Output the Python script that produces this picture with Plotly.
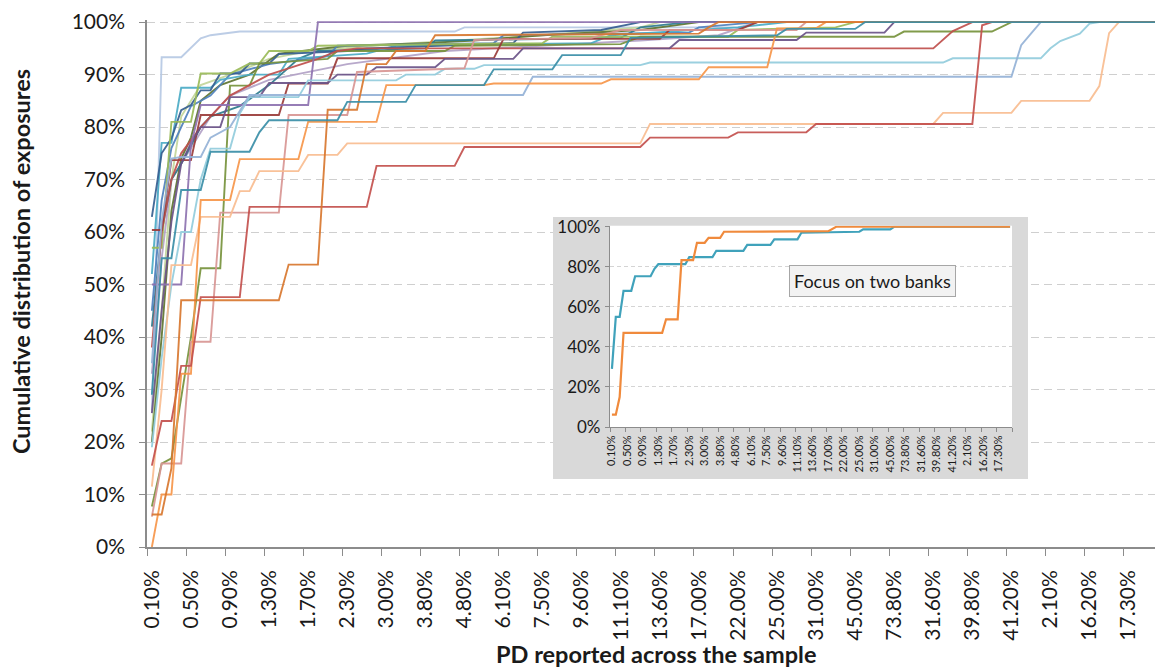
import plotly.graph_objects as go

# ---------------- data ----------------
pd_tick_labels = ["0.10%", "0.50%", "0.90%", "1.30%", "1.70%", "2.30%", "3.00%", "3.80%",
                  "4.80%", "6.10%", "7.50%", "9.60%", "11.10%", "13.60%", "17.00%", "22.00%",
                  "25.00%", "31.00%", "45.00%", "73.80%", "31.60%", "39.80%", "41.20%", "2.10%",
                  "16.20%", "17.30%"]
n_categories = 104          # PD buckets on the category axis (every 4th labelled)
label_step = 4

# each bank: (category index, cumulative share of exposures) at the points where the curve changes
bank_a = [(0, 0.26), (1, 0.933), (3, 0.933), (5, 0.969), (6, 0.975), (9, 0.982), (31, 0.982), (32, 0.99), (60, 0.99), (62, 1.0), (103, 1.0)]
bank_b = [(0, 0.50), (3, 0.50), (4, 0.766), (5, 0.842), (16, 0.842), (17, 1.0), (103, 1.0)]
bank_c = [(0, 0.255), (1, 0.45), (2, 0.62), (3, 0.73), (4, 0.77), (5, 0.80), (7, 0.80), (8, 0.857), (11, 0.857), (12, 0.884), (18, 0.884), (19, 0.90), (22, 0.90), (23, 0.914), (29, 0.914), (30, 0.93), (37, 0.93), (38, 0.95), (53, 0.95), (54, 0.966), (66, 0.966), (67, 0.98), (75, 0.98), (76, 1.0), (103, 1.0)]
bank_d = [(0, 0.155), (1, 0.24), (2, 0.24), (3, 0.345), (4, 0.345), (5, 0.476), (9, 0.476), (10, 0.648), (22, 0.648), (23, 0.726), (31, 0.726), (32, 0.762), (50, 0.762), (51, 0.78), (59, 0.78), (60, 0.79), (67, 0.79), (68, 0.806), (84, 0.806), (85, 0.994), (86, 1.0), (103, 1.0)]
bank_e = [(0, 0.115), (1, 0.30), (2, 0.537), (4, 0.537), (5, 0.629), (8, 0.629), (9, 0.678), (10, 0.678), (11, 0.716), (15, 0.716), (16, 0.747), (19, 0.747), (20, 0.769), (50, 0.769), (51, 0.806), (80, 0.806), (81, 0.827), (88, 0.827), (89, 0.85), (96, 0.85), (97, 0.878), (98, 0.979), (99, 1.0), (103, 1.0)]
bank_f = [(0, 0.0), (1, 0.10), (2, 0.10), (3, 0.33), (4, 0.33), (5, 0.661), (8, 0.661), (9, 0.739), (15, 0.739), (16, 0.81), (23, 0.81), (24, 0.88), (34, 0.88), (35, 0.883), (46, 0.883), (47, 0.891), (56, 0.891), (57, 0.914), (63, 0.914), (64, 0.988), (68, 0.988), (69, 1.0), (103, 1.0)]
bank_g = [(0, 0.062), (1, 0.062), (2, 0.15), (3, 0.47), (13, 0.47), (14, 0.538), (17, 0.538), (18, 0.833), (21, 0.833), (22, 0.92), (24, 0.92), (25, 0.945), (28, 0.945), (29, 0.975), (56, 0.978), (57, 0.99), (58, 1.0), (103, 1.0)]
bank_h = [(0, 0.29), (1, 0.55), (2, 0.55), (3, 0.68), (5, 0.68), (6, 0.753), (10, 0.753), (11, 0.79), (12, 0.813), (19, 0.813), (20, 0.848), (26, 0.848), (27, 0.88), (34, 0.88), (35, 0.91), (41, 0.91), (42, 0.937), (48, 0.937), (49, 0.97), (64, 0.975), (65, 0.987), (72, 0.987), (73, 1.0), (103, 1.0)]
bank_i = [(0, 0.19), (1, 0.36), (2, 0.50), (3, 0.60), (4, 0.60), (5, 0.70), (6, 0.759), (8, 0.759), (9, 0.826), (10, 0.857), (15, 0.857), (16, 0.889), (25, 0.889), (26, 0.90), (29, 0.90), (30, 0.911), (33, 0.911), (34, 0.918), (50, 0.918), (51, 0.923), (81, 0.923), (82, 0.931), (91, 0.931), (92, 0.95), (93, 0.964), (95, 0.978), (96, 0.997), (97, 1.0), (103, 1.0)]
bank_j = [(0, 0.35), (1, 0.62), (2, 0.74), (3, 0.743), (5, 0.743), (6, 0.78), (8, 0.80), (9, 0.83), (10, 0.861), (38, 0.861), (39, 0.896), (88, 0.896), (89, 0.956), (90, 0.978), (91, 1.0), (103, 1.0)]
bank_k = [(0, 0.058), (1, 0.159), (3, 0.159), (4, 0.391), (6, 0.391), (7, 0.637), (13, 0.637), (14, 0.823), (20, 0.823), (21, 0.905), (32, 0.912), (33, 0.966), (45, 0.97), (48, 0.985), (66, 0.985), (67, 1.0), (103, 1.0)]
bank_l = [(0, 0.604), (1, 0.604), (2, 0.737), (4, 0.737), (5, 0.823), (13, 0.823), (14, 0.883), (18, 0.883), (19, 0.931), (35, 0.931), (36, 0.968), (52, 0.968), (53, 0.985), (60, 0.985), (62, 1.0), (103, 1.0)]
bank_m = [(0, 0.38), (1, 0.60), (2, 0.70), (3, 0.75), (5, 0.80), (8, 0.86), (12, 0.90), (17, 0.93), (19, 0.945), (21, 0.95), (80, 0.95), (82, 0.983), (84, 1.0), (103, 1.0)]
bank_n = [(0, 0.57), (1, 0.57), (2, 0.81), (4, 0.81), (5, 0.902), (8, 0.902), (10, 0.921), (11, 0.921), (12, 0.945), (16, 0.945), (17, 0.955), (40, 0.96), (41, 0.972), (59, 0.972), (60, 0.985), (70, 0.99), (72, 1.0), (103, 1.0)]
bank_o = [(0, 0.077), (1, 0.159), (2, 0.169), (4, 0.40), (5, 0.531), (7, 0.531), (8, 0.879), (10, 0.879), (11, 0.921), (18, 0.93), (19, 0.945), (30, 0.945), (31, 0.955), (48, 0.958), (50, 0.972), (76, 0.972), (77, 0.982), (86, 0.982), (88, 1.0), (103, 1.0)]
bank_p = [(0, 0.22), (1, 0.45), (2, 0.70), (3, 0.82), (5, 0.88), (8, 0.90), (12, 0.93), (16, 0.945), (25, 0.958), (40, 0.975), (50, 0.99), (52, 1.0), (103, 1.0)]
bank_q = [(0, 0.629), (1, 0.75), (2, 0.778), (3, 0.832), (4, 0.842), (5, 0.87), (6, 0.87), (7, 0.902), (9, 0.902), (10, 0.921), (12, 0.921), (13, 0.939), (20, 0.945), (22, 0.95), (37, 0.96), (38, 0.98), (46, 0.985), (50, 1.0), (103, 1.0)]
bank_r = [(0, 0.45), (1, 0.66), (2, 0.76), (3, 0.80), (4, 0.84), (6, 0.86), (8, 0.90), (12, 0.92), (18, 0.935), (19, 0.955), (35, 0.96), (36, 0.975), (55, 0.98), (56, 0.99), (62, 1.0), (103, 1.0)]
bank_s = [(0, 0.52), (1, 0.77), (2, 0.77), (3, 0.875), (6, 0.875), (7, 0.89), (10, 0.90), (13, 0.90), (14, 0.93), (22, 0.94), (25, 0.955), (45, 0.96), (47, 0.975), (60, 0.99), (65, 1.0), (103, 1.0)]
bank_t = [(0, 0.42), (1, 0.60), (2, 0.70), (3, 0.73), (5, 0.80), (6, 0.82), (9, 0.84), (12, 0.88), (15, 0.93), (17, 0.945), (28, 0.95), (29, 0.965), (48, 0.97), (50, 0.99), (55, 1.0), (103, 1.0)]
bank_u = [(0, 0.20), (1, 0.40), (2, 0.64), (3, 0.74), (4, 0.78), (5, 0.85), (7, 0.88), (10, 0.90), (13, 0.94), (20, 0.955), (28, 0.96), (33, 0.965), (40, 0.975), (50, 0.985), (56, 1.0), (103, 1.0)]
bank_v = [(0, 0.33), (1, 0.55), (2, 0.70), (4, 0.76), (6, 0.82), (8, 0.86), (12, 0.89), (20, 0.92), (30, 0.945), (50, 0.965), (58, 0.975), (62, 1.0), (103, 1.0)]

# the two banks shown in the inset
focus_banks = ["bank_h", "bank_g"]

# ---------------- styling ----------------
main_banks = [
    ("bank_a", bank_a, "#b7c9e4"), ("bank_p", bank_p, "#c3d69b"), ("bank_v", bank_v, "#b3a2c7"),
    ("bank_u", bank_u, "#5f7530"), ("bank_t", bank_t, "#2e7b8e"), ("bank_r", bank_r, "#4f81bd"),
    ("bank_s", bank_s, "#4bacc6"), ("bank_q", bank_q, "#365f91"), ("bank_n", bank_n, "#9bbb59"),
    ("bank_o", bank_o, "#77933c"), ("bank_m", bank_m, "#c0504d"), ("bank_l", bank_l, "#9b3c3a"),
    ("bank_c", bank_c, "#6b5388"), ("bank_b", bank_b, "#8e72b0"), ("bank_i", bank_i, "#93cddd"),
    ("bank_j", bank_j, "#95b3d7"), ("bank_k", bank_k, "#d99694"), ("bank_e", bank_e, "#f9bd91"),
    ("bank_f", bank_f, "#f7964a"), ("bank_d", bank_d, "#c4514e"), ("bank_g", bank_g, "#d9782f"),
    ("bank_h", bank_h, "#3a8fa8"),
]
inset_colors = {"bank_h": "#40a2bb", "bank_g": "#f08a3c"}
FONT = "Lato"
TXT = "#1a1a1a"
AXIS = "#8c8c8c"

# geometry helpers (pixels -> paper fractions)
L, R, T0, B0 = 147, 1155, 22, 547
EPS = 0.004
plot_h = (B0 - T0) * (1 + EPS)
top_px = B0 - plot_h


def fx(px):
    return (px - L) / (R - L)


def fy(py):
    return (B0 - py) / plot_h


fig = go.Figure()

for name, pts, col in main_banks:
    fig.add_trace(go.Scatter(x=[p[0] for p in pts], y=[p[1] for p in pts], mode="lines",
                             line=dict(color=col, width=1.9), opacity=0.92,
                             name=name, showlegend=False, hoverinfo="skip"))

# frame subplot (grey card behind the inset)
fig.add_trace(go.Scatter(x=[], y=[], xaxis="x2", yaxis="y2", showlegend=False, hoverinfo="skip"))

all_banks = {n: p for n, p, _ in main_banks}
for name in focus_banks:
    pts = all_banks[name]
    fig.add_trace(go.Scatter(x=[p[0] for p in pts], y=[p[1] for p in pts], mode="lines",
                             line=dict(color=inset_colors[name], width=2.2),
                             xaxis="x3", yaxis="y3", showlegend=False, hoverinfo="skip"))

tick_pos = [k * label_step for k in range(len(pd_tick_labels))]
boundaries = [k * label_step - 0.5 for k in range(len(pd_tick_labels) + 1)]

fig.update_layout(
    width=1155, height=667,
    margin=dict(l=L, r=1155 - R, t=top_px, b=667 - B0),
    paper_bgcolor="white", plot_bgcolor="white",
    font=dict(family=FONT, color=TXT),
    showlegend=False,
    xaxis=dict(range=[-0.5, 102.7], tickmode="array", tickvals=tick_pos, ticktext=pd_tick_labels,
               tickangle=-90, ticks="", showgrid=False, zeroline=False,
               showline=True, linecolor=AXIS, linewidth=1.5,
               tickfont=dict(size=21, family=FONT, color=TXT), ticklabelstandoff=13,
               minor=dict(tickmode="array", tickvals=boundaries, ticks="outside", ticklen=7,
                          tickcolor=AXIS, tickwidth=1.3, showgrid=False)),
    yaxis=dict(range=[0, 1 + EPS], tickmode="array", tickvals=[k / 10 for k in range(11)],
               tickformat=".0%", showgrid=True, gridcolor="#cfcfcf", gridwidth=1.2,
               griddash="8px,5px", zeroline=False, showline=True, linecolor=AXIS, linewidth=1.5,
               ticks="outside", ticklen=6, tickcolor=AXIS, tickwidth=1.3,
               tickfont=dict(size=21, family=FONT, color=TXT), ticklabelstandoff=10),
    xaxis2=dict(domain=[fx(553), fx(1028)], range=[0, 1], visible=False, anchor="y2", fixedrange=True),
    yaxis2=dict(domain=[fy(479), fy(217)], range=[0, 1], visible=False, anchor="x2", fixedrange=True),
    xaxis3=dict(domain=[fx(610), fx(1012)], anchor="y3", range=[-0.5, n_categories - 0.5],
                tickmode="array", tickvals=tick_pos, ticktext=pd_tick_labels, tickangle=-90,
                ticks="", showgrid=False, zeroline=False, showline=True, linecolor=AXIS, linewidth=1.2,
                tickfont=dict(size=11, family=FONT, color=TXT), ticklabelstandoff=3,
                minor=dict(tickmode="array", tickvals=boundaries, ticks="outside", ticklen=4,
                           tickcolor=AXIS, tickwidth=1, showgrid=False)),
    yaxis3=dict(domain=[fy(427), fy(225.7)], anchor="x3", range=[0, 1.005], tickmode="array",
                tickvals=[0, 0.2, 0.4, 0.6, 0.8, 1.0], tickformat=".0%", showgrid=True,
                gridcolor="#d4d4d4", gridwidth=1, griddash="4px,3px", zeroline=False,
                showline=True, linecolor=AXIS, linewidth=1.2, ticks="outside", ticklen=4,
                tickcolor=AXIS, tickfont=dict(size=17, family=FONT, color=TXT), ticklabelstandoff=1),
    shapes=[
        dict(type="rect", xref="x2", yref="y2", x0=0, x1=1, y0=0, y1=1,
             fillcolor="#d9d9d9", line=dict(width=0), layer="below"),
        dict(type="rect", xref="x3", yref="y3", x0=-0.5, x1=n_categories - 0.5, y0=0, y1=1.005,
             fillcolor="white", line=dict(width=0), layer="below"),
    ],
    annotations=[
        dict(text="<b>Cumulative distribution of exposures</b>", xref="paper", yref="paper",
             x=fx(21), y=fy(262), textangle=-90, showarrow=False,
             font=dict(size=23.5, family=FONT, color=TXT), xanchor="center", yanchor="middle"),
        dict(text="<b>PD reported across the sample</b>", xref="paper", yref="paper",
             x=fx(656), y=fy(654), showarrow=False,
             font=dict(size=23.5, family=FONT, color=TXT), xanchor="center", yanchor="middle"),
        dict(text="Focus on two banks", xref="paper", yref="paper", x=fx(872), y=fy(280.5),
             showarrow=False, font=dict(size=18, family=FONT, color=TXT),
             bgcolor="#f2f2f2", bordercolor="#a6a6a6", borderwidth=1, borderpad=4,
             xanchor="center", yanchor="middle"),
    ],
)

fig.write_html("out.html", config={"displayModeBar": False},
               post_script="document.body.style.margin='0';document.body.style.overflow='hidden';")
